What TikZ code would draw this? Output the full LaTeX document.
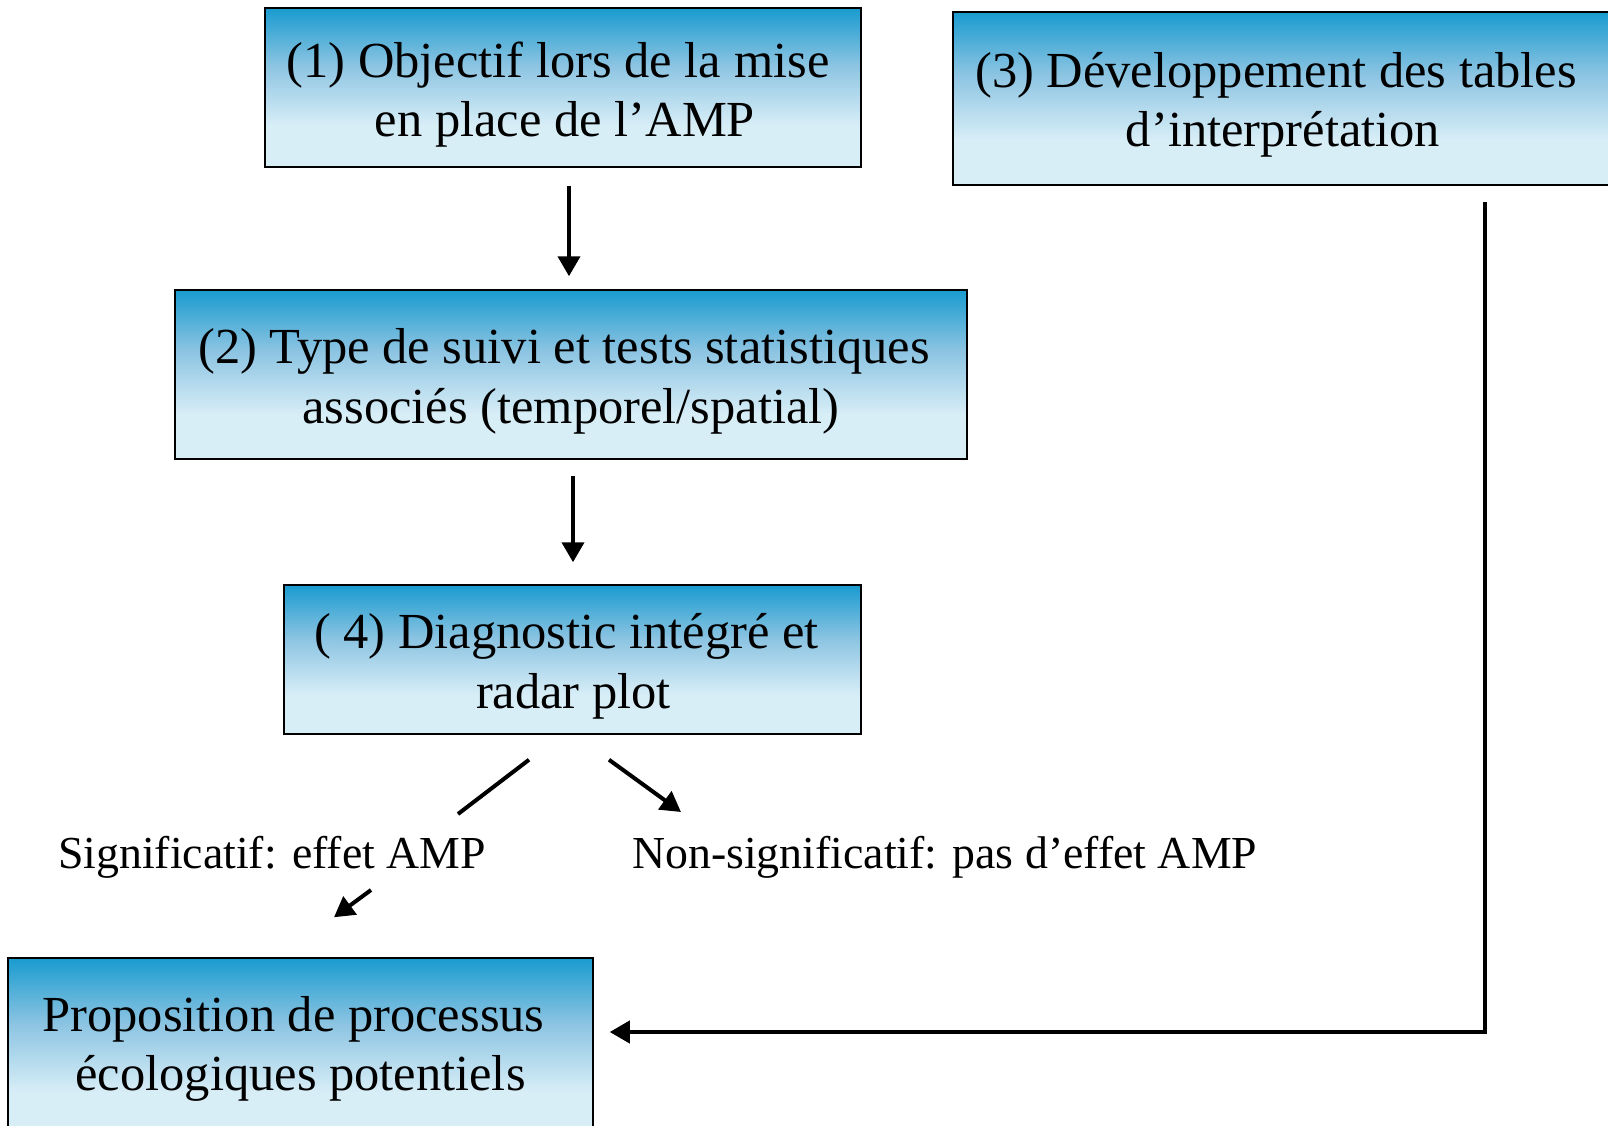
\documentclass[tikz,border=0pt]{standalone}
\usepackage{fontspec}
\setmainfont{Liberation Serif}
\usetikzlibrary{arrows.meta,calc}
\definecolor{gdark}{RGB}{25,155,207}
\definecolor{gmid}{RGB}{140,196,226}
\definecolor{glight}{RGB}{216,238,247}
\pgfdeclareverticalshading{boxgrad}{100bp}{color(0bp)=(glight); color(25bp)=(glight); color(38bp)=(glight); color(57bp)=(gmid); color(75bp)=(gdark); color(100bp)=(gdark)}
\newcommand{\secondlinepad}{\hspace*{14pt}}
\tikzset{
  box/.style={draw=black, line width=1.5pt, shading=boxgrad, inner sep=0pt},
  btxt/.style={inner sep=0pt, align=center, font=\fontsize{50.5}{59.5}\selectfont},
  lbl/.style={inner sep=0pt, font=\fontsize{45.8}{52}\selectfont},
  ln/.style={line width=4pt},
  arr/.style={line width=4pt, -{Triangle[length=20pt,width=22pt]}},
}
\begin{document}
\begin{tikzpicture}[x=1pt,y=-1pt]
\useasboundingbox (0,0) rectangle (1608,1126);
\clip (0,0) rectangle (1608,1126);
\node[box, minimum width=596pt, minimum height=159pt] (box1) at (563,87.5) {};
\node[btxt] (t1) at ($(box1.center)+(-5,7)$) {(1) Objectif lors de la mise\\ \secondlinepad en place de l’AMP};
\node[box, minimum width=792pt, minimum height=169pt] (box2) at (571,374.5) {};
\node[btxt] (t2) at ($(box2.center)+(-7,7)$) {(2) Type de suivi et tests statistiques\\ \secondlinepad associés (temporel/spatial)};
\node[box, minimum width=577pt, minimum height=149pt] (box4) at (572.5,659.5) {};
\node[btxt] (t4) at ($(box4.center)+(-6,7)$) {( 4) Diagnostic intégré et\\ \secondlinepad radar plot};
\node[box, minimum width=667pt, minimum height=173pt] (box3) at (1286.5,98.5) {};
\node[btxt] (t3) at (1276,105) {(3) Développement des tables\\ \secondlinepad d’interprétation};
\node[box, minimum width=585pt, minimum height=182pt] (box5) at (300.5,1049) {};
\node[btxt] (t5) at ($(box5.center)+(-7,0)$) {Proposition de processus\\ \secondlinepad écologiques potentiels};
\node[lbl, anchor=base] (sig) at (272,868) {Significatif: effet AMP};
\node[lbl, anchor=base west] (ns) at (632,868) {Non-significatif: pas d’effet AMP};
% vertical arrows
\draw[arr] ($(box1.south -| 569,0)+(0,18)$) -- ($(box2.north -| 569,0)+(0,-13)$);
\draw[arr] ($(box2.south -| 573,0)+(0,16)$) -- ($(box4.north -| 573,0)+(0,-22)$);
% branches
\coordinate (k1) at (458,814);
\coordinate (k2) at (371,890);
\draw[ln] ($(box4.south)+(-43.5,25)$) -- (k1);
\draw[arr] (k2) -- ($(box5.north)+(33.5,-40)$);
\draw[arr] ($(box4.south)+(36.5,25)$) -- (681,812);
% right connector
\draw[arr] ($(box3.south -| 1485,0)+(0,16)$) |- ($(box5.east |- 0,1032)+(16,0)$);
\end{tikzpicture}
\end{document}
